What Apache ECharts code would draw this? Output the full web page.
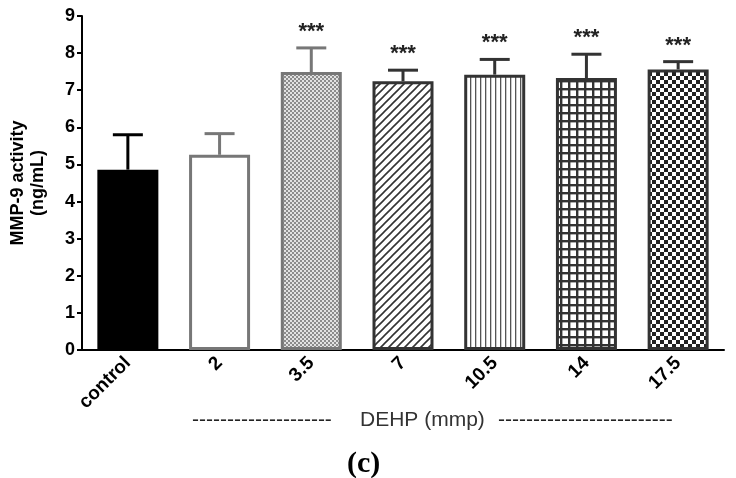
<!DOCTYPE html>
<html>
<head>
<meta charset="utf-8">
<script src="https://cdn.jsdelivr.net/npm/echarts@6/dist/echarts.min.js"></script>
<style>html,body{margin:0;padding:0;background:#fff}#c{width:736px;height:478px}</style>
</head>
<body>
<div id="c"></div>
<script>
const categories = ['control', '2', '3.5', '7', '10.5', '14', '17.5'];
const means = [4.86, 5.26, 7.49, 7.24, 7.42, 7.33, 7.56];
const errUpper = [5.80, 5.83, 8.14, 7.54, 7.83, 7.97, 7.77];
const sig = ['', '', '***', '***', '***', '***', '***'];
const yTicks = [0, 1, 2, 3, 4, 5, 6, 7, 8, 9];

function makeCanvas(w, h, draw) {
  const c = document.createElement('canvas');
  c.width = w; c.height = h;
  const g = c.getContext('2d');
  g.fillStyle = '#fff'; g.fillRect(0, 0, w, h);
  draw(g);
  return { image: c, repeat: 'repeat' };
}
const patFine = makeCanvas(4, 4, g => {
  g.fillStyle = '#e2e2e2'; g.fillRect(0, 0, 4, 4);
  g.fillStyle = '#8c8c8c'; g.fillRect(0, 0, 2, 2); g.fillRect(2, 2, 2, 2);
});
const patDiag = makeCanvas(8, 8, g => {
  g.strokeStyle = '#333'; g.lineWidth = 1.6;
  g.beginPath();
  g.moveTo(-1, 9); g.lineTo(9, -1);
  g.moveTo(-5, 5); g.lineTo(5, -5);
  g.moveTo(3, 13); g.lineTo(13, 3);
  g.stroke();
});
const patVert = makeCanvas(5, 5, g => {
  g.fillStyle = '#555'; g.fillRect(0, 0, 1.3, 5);
});
const patGrid = makeCanvas(8, 8, g => {
  g.fillStyle = '#333'; g.fillRect(0, 0, 8, 2.4); g.fillRect(0, 0, 2.4, 8);
});
const patCheck = makeCanvas(8, 8, g => {
  g.fillStyle = '#222'; g.fillRect(0, 0, 4, 4); g.fillRect(4, 4, 4, 4);
});
const fills = ['#000', '#fff', patFine, patDiag, patVert, patGrid, patCheck];
const borders = ['#000', '#777', '#777', '#333', '#333', '#333', '#333'];

const barData = means.map((v, i) => ({
  value: v,
  itemStyle: { color: fills[i], borderColor: borders[i], borderWidth: 3 }
}));
const errData = means.map((v, i) => [i, v, errUpper[i]]);

const FONT = 'Liberation Sans, Arial';
const chart = echarts.init(document.getElementById('c'), null, { renderer: 'canvas' });
chart.setOption({
  animation: false,
  grid: { left: 80, right: 12, top: 16, bottom: 128 },
  xAxis: {
    type: 'category',
    data: categories,
    boundaryGap: true,
    axisLine: { lineStyle: { color: '#000', width: 2 } },
    axisTick: { alignWithLabel: true, length: 5, lineStyle: { color: '#000', width: 2 } },
    axisLabel: { rotate: 45, margin: 10, color: '#000', fontWeight: 'bold', fontSize: 19, fontFamily: FONT }
  },
  yAxis: {
    type: 'value',
    min: 0, max: 9, interval: 1,
    name: 'MMP-9 activity\n(ng/mL)',
    nameLocation: 'middle',
    nameGap: 34,
    nameTextStyle: { color: '#000', fontWeight: 'bold', fontSize: 18, fontFamily: FONT, lineHeight: 20 },
    axisLine: { show: true, lineStyle: { color: '#000', width: 2 } },
    axisTick: { show: true, length: 5, lineStyle: { color: '#000', width: 2 } },
    splitLine: { show: false },
    axisLabel: {
      color: '#000', fontWeight: 'bold', fontSize: 18, fontFamily: FONT, margin: 7,
      formatter: v => yTicks.indexOf(v) >= 0 ? String(v) : ''
    }
  },
  series: [
    { type: 'bar', data: barData, barWidth: 61 },
    {
      type: 'custom',
      data: errData,
      z: 1,
      renderItem: (params, api) => {
        const i = api.value(0);
        const top = api.coord([i, api.value(1)]);
        const hi = api.coord([i, api.value(2)]);
        const col = borders[i];
        const children = [
          { type: 'line', shape: { x1: top[0], y1: top[1], x2: hi[0], y2: hi[1] }, style: { stroke: col, lineWidth: 3 } },
          { type: 'line', shape: { x1: hi[0] - 15, y1: hi[1], x2: hi[0] + 15, y2: hi[1] }, style: { stroke: col, lineWidth: 3 } }
        ];
        if (sig[i]) {
          children.push({ type: 'text', x: hi[0], y: hi[1] - 5, style: { text: sig[i], fill: '#222', fontSize: 22, fontWeight: 'bold', fontFamily: FONT, align: 'center', verticalAlign: 'bottom' } });
        }
        return { type: 'group', children };
      }
    }
  ],
  graphic: [
    { type: 'text', left: 192, top: 410, style: { text: '--------------------', fill: '#222', fontSize: 21, fontFamily: FONT } },
    { type: 'text', left: 360, top: 410, style: { text: 'DEHP (mmp)', fill: '#333', fontSize: 21, fontFamily: FONT } },
    { type: 'text', left: 498, top: 410, style: { text: '-------------------------', fill: '#222', fontSize: 21, fontFamily: FONT } },
    { type: 'text', left: 347, top: 449, style: { text: '(c)', fill: '#000', fontSize: 30, fontWeight: 'bold', fontFamily: 'Liberation Serif, serif' } }
  ]
});
</script>
</body>
</html>
